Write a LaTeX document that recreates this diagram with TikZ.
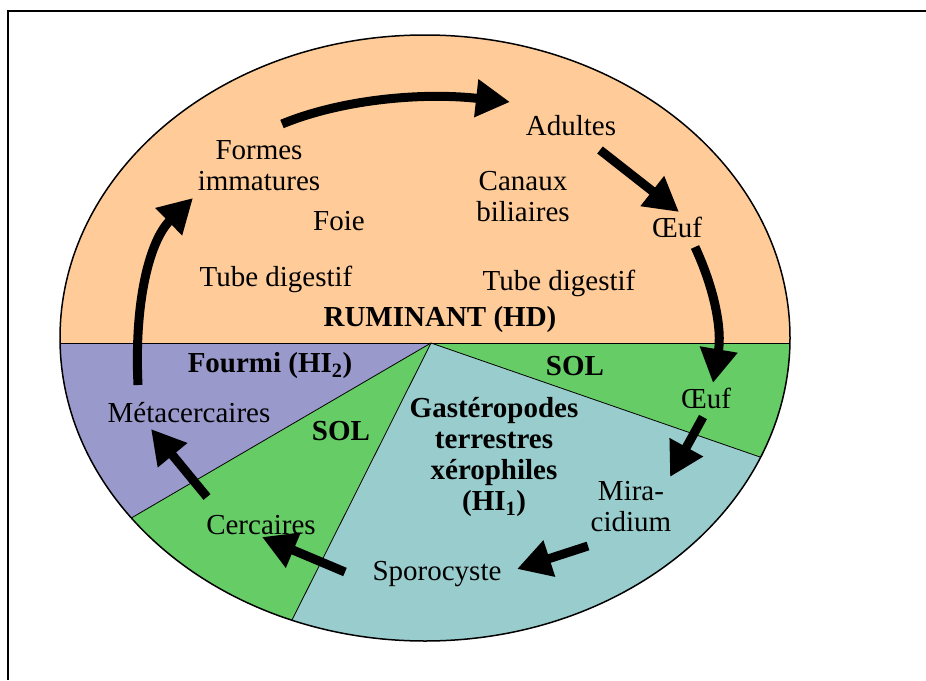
\documentclass[tikz,border=0pt]{standalone}
\usepackage{fontspec}
\setmainfont{Liberation Serif}
\usepackage{tikz}
\usetikzlibrary{arrows.meta}

\definecolor{ruminantColor}{RGB}{255,204,153}
\definecolor{fourmiColor}{RGB}{153,153,204}
\definecolor{solColor}{RGB}{102,204,102}
\definecolor{snailColor}{RGB}{153,204,204}

\begin{document}
\begin{tikzpicture}
[x=1pt,y=-1pt,
stage/.style={align=center,inner sep=0pt,font=\fontsize{29}{31}\selectfont},
host/.style={stage,font=\fontsize{29}{31}\selectfont\bfseries},
border/.style={line width=0.8pt},
cycleArrow/.style={-{Triangle[length=34pt,width=36pt]},line width=9pt}]
\useasboundingbox (0,0) rectangle (926,680);
\draw[line width=2pt] (8,680) -- (8,11) -- (926,11);

% parts of the ellipse
\coordinate (hub) at (431,343);
\begin{scope}
\clip (425,338) ellipse [x radius=365,y radius=303];
\fill[ruminantColor] (0,0) rectangle (926,343);
\fill[fourmiColor] (hub) -- (-600,343) -- (-463,865) -- cycle;
\fill[solColor] (hub) -- (-463,865) -- (17,1168) -- cycle;
\fill[snailColor] (hub) -- (17,1168) -- (1418,685) -- cycle;
\fill[solColor] (hub) -- (1418,685) -- (1300,343) -- cycle;
\draw[border] (0,343) -- (926,343);
\draw[border] (hub) -- (-463,865);
\draw[border] (hub) -- (17,1168);
\draw[border] (hub) -- (1418,685);
\end{scope}
\draw[line width=1.5pt] (425,338) ellipse [x radius=365,y radius=303];

\node[stage] (formes) at (259,166) {Formes\\immatures}; 
\node[stage] (foie) at (339,221) {Foie}; 
\node[stage] (tubeL) at (276,279) {Tube digestif}; 
\node[stage] (canaux) at (523,197) {Canaux\\biliaires}; 
\node[stage] (adultes) at (571,126) {Adultes}; 
\node[stage] (oeufHaut) at (677,227) {Œuf}; 
\node[stage] (tubeR) at (559,283) {Tube digestif}; 
\node[host] (ruminant) at (440,320) {RUMINANT (HD)}; 
\node[host] (fourmi) at (270,366) {Fourmi (HI\textsubscript{2})}; 
\node[host] (solR) at (575,366) {SOL}; 
\node[stage] (oeufBas) at (706,398) {Œuf}; 
\node[stage] (meta) at (189,413) {Métacercaires}; 
\node[host] (solL) at (341,431) {SOL}; 
\node[host] (gastero) at (494,457) {Gastéropodes\\terrestres\\xérophiles\\(HI\textsubscript{1})}; 
\node[stage] (mira) at (631,507) {Mira-\\cidium}; 
\node[stage] (cercaires) at (261,525) {Cercaires}; 
\node[stage] (sporo) at (437,574) {Sporocyste}; 

% arrow ends
\coordinate (formesOut) at (282,124); 
\coordinate (adultesIn) at (510,102); 
\coordinate (adultesOut) at (600,150); 
\coordinate (oeufHautIn) at (679,212); 
\coordinate (oeufHautOut) at (695,247); 
\coordinate (oeufBasIn) at (713,383); 
\coordinate (oeufBasOut) at (703,417); 
\coordinate (miraIn) at (670,477); 
\coordinate (miraOut) at (588,546); 
\coordinate (sporoIn) at (517,569); 
\coordinate (sporoOut) at (345,572); 
\coordinate (cercairesIn) at (262,537); 
\coordinate (cercairesOut) at (207,497); 
\coordinate (metaIn) at (151,429); 
\coordinate (metaOut) at (138,385); 
\coordinate (formesIn) at (193,198); 

\draw[cycleArrow] (formesOut) .. controls (340,100) and (420,92) .. (adultesIn);
\draw[cycleArrow] (adultesOut) -- (oeufHautIn);
\draw[cycleArrow] (oeufHautOut) .. controls (715,290) and (722,330) .. (oeufBasIn);
\draw[cycleArrow] (oeufBasOut) -- (miraIn);
\draw[cycleArrow] (miraOut) -- (sporoIn);
\draw[cycleArrow] (sporoOut) -- (cercairesIn);
\draw[cycleArrow] (cercairesOut) -- (metaIn);
\draw[cycleArrow] (metaOut) .. controls (134,300) and (150,240) .. (formesIn);
\end{tikzpicture}
\end{document}
